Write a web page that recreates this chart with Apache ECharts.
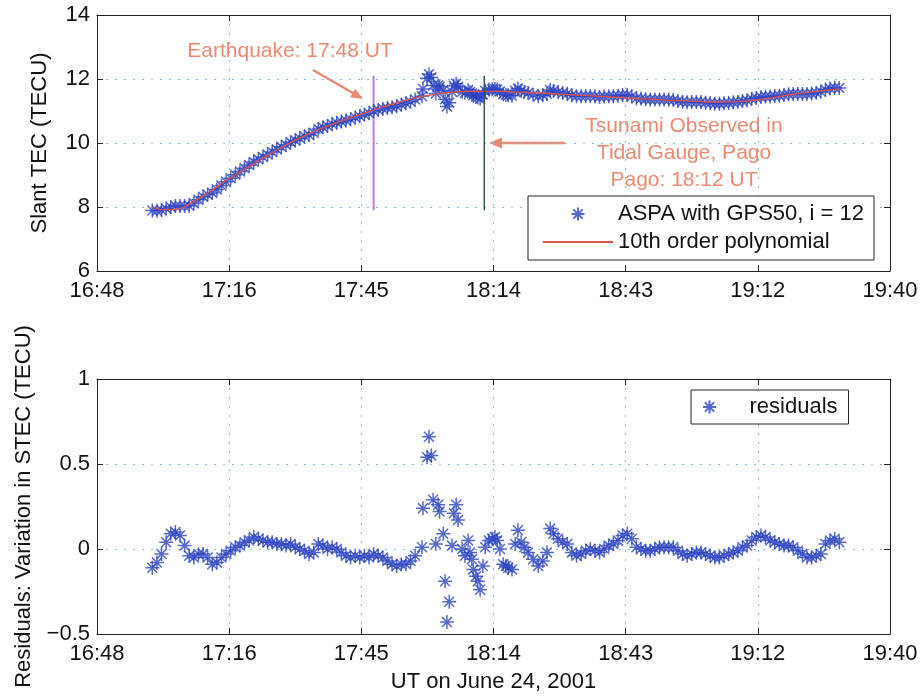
<!DOCTYPE html>
<html>
<head>
<meta charset="utf-8">
<script src="https://cdn.jsdelivr.net/npm/echarts@6/dist/echarts.min.js"></script>
<style>
html,body{margin:0;padding:0;background:#fff;}
#chart{width:922px;height:696px;}
</style>
</head>
<body>
<div id="chart"></div>
<script>
// ---- data (minutes after 16:48 UT) ----
const tickLabels = ['16:48','17:16','17:45','18:14','18:43','19:12','19:40'];

const times = [
 12,13,14,15,16,17,18,19,20,21,22,23,24,25,26,27,28,29,30,31,32,33,34,35,36,37,38,39,40,41,
 42,43,44,45,46,47,48,49,50,51,52,53,54,55,56,57,58,59,60,61,62,63,64,65,66,67,68,69,
 70.5,70.7,71.6,72.0,72.5,72.9,73.5,74.0,74.3,75.1,75.5,75.9,76.4,77.0,77.4,77.9,78.3,79.2,79.8,80.5,
 80.9,81.3,81.6,82.2,82.6,83.1,83.7,84.2,85.0,85.7,86.3,86.8,87.4,88.1,88.7,89.2,90.0,90.7,91.3,92.0,
 92.7,93.5,94.6,95.7,96.7,97.6,98.3,
 99,100,101,102,103,104,105,106,107,108,109,110,111,112,113,114,115,116,117,118,119,120,
 121,122,123,124,125,126,127,128,129,130,131,132,133,134,135,136,137,138,139,140,
 141,142,143,144,145,146,147,148,149,150,151,152,153,154,155,156,157,158,159,160,161
];

const slantTec = [
 7.89,7.88,7.90,7.95,8.00,8.03,8.03,8.03,8.04,8.12,8.23,8.32,8.39,8.44,8.55,8.67,8.79,8.90,9.01,9.11,
 9.21,9.31,9.41,9.49,9.56,9.64,9.72,9.80,9.88,9.94,10.03,10.08,10.15,10.21,10.25,10.32,10.44,10.49,10.53,10.59,
 10.63,10.67,10.70,10.74,10.80,10.84,10.89,10.93,11.00,11.03,11.07,11.09,11.12,11.15,11.20,11.24,11.29,11.36,
 11.46,11.69,12.02,12.15,12.05,11.80,11.55,11.80,11.76,11.65,11.37,11.14,11.26,11.60,11.79,11.85,11.76,11.60,11.57,11.66,
 11.59,11.55,11.49,11.45,11.42,11.38,11.52,11.63,11.67,11.68,11.69,11.67,11.61,11.52,11.51,11.49,11.48,11.63,11.70,11.63,
 11.59,11.56,11.51,11.46,11.49,11.53,11.66,
 11.63,11.59,11.56,11.54,11.49,11.46,11.46,11.47,11.47,11.46,11.44,11.45,11.46,11.46,11.48,11.50,11.50,11.46,11.40,11.39,
 11.37,11.36,11.36,11.36,11.36,11.35,11.34,11.31,11.29,11.27,11.28,11.28,11.28,11.26,11.25,11.23,11.23,11.24,11.25,11.27,
 11.28,11.31,11.33,11.38,11.41,11.44,11.45,11.45,11.47,11.48,11.50,11.52,11.53,11.53,11.53,11.53,11.55,11.57,11.60,11.67,
 11.70,11.73,11.72
];

const residuals = [
 -0.11,-0.08,-0.03,0.04,0.09,0.10,0.08,0.02,-0.04,-0.05,-0.03,-0.03,-0.05,-0.09,-0.08,-0.05,-0.03,-0.01,0.01,0.02,
 0.04,0.05,0.07,0.06,0.05,0.04,0.04,0.03,0.03,0.02,0.03,0.01,0.00,-0.01,-0.03,-0.02,0.03,0.02,0.00,0.01,
 0.00,-0.02,-0.04,-0.05,-0.04,-0.05,-0.04,-0.05,-0.03,-0.04,-0.05,-0.07,-0.09,-0.10,-0.09,-0.09,-0.07,-0.04,
 0.01,0.24,0.54,0.66,0.55,0.29,0.03,0.26,0.22,0.09,-0.19,-0.43,-0.31,0.02,0.21,0.26,0.17,0.00,-0.04,0.05,
 -0.02,-0.06,-0.12,-0.16,-0.19,-0.24,-0.10,0.01,0.05,0.06,0.07,0.05,0.00,-0.09,-0.10,-0.11,-0.12,0.03,0.11,0.04,
 0.01,-0.02,-0.06,-0.10,-0.07,-0.02,0.12,
 0.09,0.06,0.04,0.03,-0.02,-0.04,-0.03,-0.01,0.00,-0.01,-0.02,0.00,0.02,0.03,0.05,0.08,0.09,0.06,0.01,0.00,
 -0.01,-0.01,0.00,0.01,0.01,0.01,0.01,-0.01,-0.03,-0.04,-0.03,-0.02,-0.02,-0.03,-0.04,-0.05,-0.05,-0.04,-0.03,-0.02,
 -0.01,0.01,0.02,0.05,0.07,0.08,0.07,0.05,0.04,0.03,0.02,0.02,0.01,-0.01,-0.03,-0.05,-0.05,-0.04,-0.03,0.03,
 0.05,0.06,0.04
];

const fitTimes  = [12,15,18,20,23,25,28,30,35,40,45,50,55,60,65,70,75,80,85,90,95,100,105,110,115,120,125,130,135,140,145,150,155,160,161];
const fitValues = [8.00,7.91,7.95,8.08,8.35,8.53,8.82,9.00,9.43,9.85,10.22,10.53,10.79,11.03,11.25,11.44,11.56,11.61,11.62,11.60,11.57,11.53,11.49,11.45,11.41,11.37,11.33,11.30,11.28,11.30,11.38,11.50,11.60,11.67,11.68];

const earthquakeTime = 60;   // 17:48 UT
const tsunamiTime = 84;      // 18:12 UT
const eventLineRange = [7.9, 12.1];

const topTicks = [6, 14, 2];
const bottomTicks = [-0.5, 1, 0.5];
const xRange = [0, 172];

// ---- chart ----
const chart = echarts.init(document.getElementById('chart'), null, {renderer: 'canvas'});
const FONT = 'Liberation Sans, Arial, Helvetica, sans-serif';
const step = (xRange[1] - xRange[0]) / (tickLabels.length - 1);
const asterisk = 'path://M5 0L5 10M0 5L10 5M1.46 1.46L8.54 8.54M1.46 8.54L8.54 1.46';
const markerColor = '#2a42c2';
const axisColor = '#222';
const gridDots = {show: true, lineStyle: {type: [2, 7], color: '#7fbfe0', width: 1}};

function xAxisDef(grid, pos, labels, name) {
  return {
    type: 'value', gridIndex: grid, position: pos, min: xRange[0], max: xRange[1], interval: step,
    axisLine: {show: true, onZero: false, lineStyle: {color: axisColor, width: 1}},
    axisTick: {show: true, inside: true, length: 6, lineStyle: {color: axisColor}},
    axisLabel: {show: labels, showMinLabel: true, showMaxLabel: true, margin: 9, fontSize: 22, fontFamily: FONT, color: '#111',
      formatter: v => { const i = Math.round(v / step); return tickLabels[i] !== undefined ? tickLabels[i] : ''; }},
    splitLine: labels ? gridDots : {show: false},
    name: name || '', nameLocation: 'middle', nameGap: 37,
    nameTextStyle: {fontSize: 22, fontFamily: FONT, color: '#111'}
  };
}
function yAxisDef(grid, pos, ticks, labels, name, gap) {
  return {
    type: 'value', gridIndex: grid, position: pos, min: ticks[0], max: ticks[1], interval: ticks[2],
    axisLine: {show: true, onZero: false, lineStyle: {color: axisColor, width: 1}},
    axisTick: {show: true, inside: true, length: 6, lineStyle: {color: axisColor}},
    axisLabel: {show: labels, showMinLabel: true, showMaxLabel: true, margin: 7, fontSize: 22, fontFamily: FONT, color: '#111',
      formatter: v => v < 0 ? '\u2212' + Math.abs(v) : String(v)},
    splitLine: labels ? gridDots : {show: false},
    name: name || '', nameLocation: 'middle', nameGap: gap || 0, nameRotate: 90,
    nameTextStyle: {fontSize: 22, fontFamily: FONT, color: '#111'}
  };
}

const starItem = {color: markerColor, borderColor: markerColor, borderWidth: 1.5};
const salmon = '#ea8a72';

const option = {
  animation: false,
  backgroundColor: '#ffffff',
  grid: [
    {left: 97, top: 15, width: 793, height: 256},
    {left: 97, top: 379, width: 793, height: 255}
  ],
  xAxis: [
    xAxisDef(0, 'bottom', true),
    xAxisDef(0, 'top', false),
    xAxisDef(1, 'bottom', true, 'UT on June 24, 2001'),
    xAxisDef(1, 'top', false)
  ],
  yAxis: [
    yAxisDef(0, 'left', topTicks, true, 'Slant TEC (TECU)', 46),
    yAxisDef(0, 'right', topTicks, false),
    yAxisDef(1, 'left', bottomTicks, true, 'Residuals: Variation in STEC (TECU)', 62),
    yAxisDef(1, 'right', bottomTicks, false)
  ],
  legend: [
    {
      data: ['ASPA with GPS50, i = 12', {name: '10th order polynomial', itemStyle: {opacity: 0}}],
      orient: 'vertical', left: 528, top: 196, selectedMode: false,
      padding: [7, 10, 7, 14], itemGap: 6, itemWidth: 70, itemHeight: 13,
      borderColor: axisColor, borderWidth: 1, backgroundColor: '#fff',
      textStyle: {fontSize: 22, fontFamily: FONT, color: '#111'}
    },
    {
      data: ['residuals'],
      orient: 'vertical', left: 691, top: 390, selectedMode: false,
      padding: [6, 11, 6, 11], itemWidth: 70, itemHeight: 13,
      borderColor: axisColor, borderWidth: 1, backgroundColor: '#fff',
      textStyle: {fontSize: 22, fontFamily: FONT, color: '#111'}
    }
  ],
  series: [
    {
      name: 'ASPA with GPS50, i = 12', type: 'scatter', xAxisIndex: 0, yAxisIndex: 0,
      symbol: asterisk, symbolSize: 14, itemStyle: starItem,
      data: times.map((t, i) => [t, slantTec[i]]), z: 3
    },
    {
      name: '10th order polynomial', type: 'line', xAxisIndex: 0, yAxisIndex: 0,
      smooth: true, symbol: 'none', showSymbol: false,
      lineStyle: {color: '#e4504a', width: 1.3}, itemStyle: {color: '#e4504a'},
      data: fitTimes.map((t, i) => [t, fitValues[i]]), z: 4
    },
    {
      name: 'earthquake', type: 'line', xAxisIndex: 0, yAxisIndex: 0, symbol: 'none',
      lineStyle: {color: '#b884d2', width: 2}, z: 2,
      data: [[earthquakeTime, eventLineRange[0]], [earthquakeTime, eventLineRange[1]]]
    },
    {
      name: 'tsunami', type: 'line', xAxisIndex: 0, yAxisIndex: 0, symbol: 'none',
      lineStyle: {color: '#2e5a4c', width: 1.5}, z: 5,
      data: [[tsunamiTime, eventLineRange[0]], [tsunamiTime, eventLineRange[1]]]
    },
    {
      name: 'residuals', type: 'scatter', xAxisIndex: 2, yAxisIndex: 2,
      symbol: asterisk, symbolSize: 14, itemStyle: starItem,
      data: times.map((t, i) => [t, residuals[i]]), z: 3
    }
  ],
  graphic: [
    {type: 'text', x: 290, y: 51, style: {text: 'Earthquake: 17:48 UT', fill: salmon, font: '21px ' + FONT, align: 'center', verticalAlign: 'middle'}},
    {type: 'line', shape: {x1: 313, y1: 70, x2: 353, y2: 93}, style: {stroke: salmon, lineWidth: 2.5}},
    {type: 'polygon', shape: {points: [[363, 99], [350.1, 97.3], [355.1, 88.7]]}, style: {fill: salmon}},
    {type: 'text', x: 684, y: 126, style: {text: 'Tsunami Observed in', fill: salmon, font: '21px ' + FONT, align: 'center', verticalAlign: 'middle'}},
    {type: 'text', x: 684, y: 153, style: {text: 'Tidal Gauge, Pago', fill: salmon, font: '21px ' + FONT, align: 'center', verticalAlign: 'middle'}},
    {type: 'text', x: 684, y: 180, style: {text: 'Pago: 18:12 UT', fill: salmon, font: '21px ' + FONT, align: 'center', verticalAlign: 'middle'}},
    {type: 'line', shape: {x1: 565, y1: 143, x2: 501, y2: 143}, style: {stroke: salmon, lineWidth: 2.5}},
    {type: 'polygon', shape: {points: [[489, 143], [502, 137.5], [502, 148.5]]}, style: {fill: salmon}}
  ]
};
chart.setOption(option);
</script>
</body>
</html>
